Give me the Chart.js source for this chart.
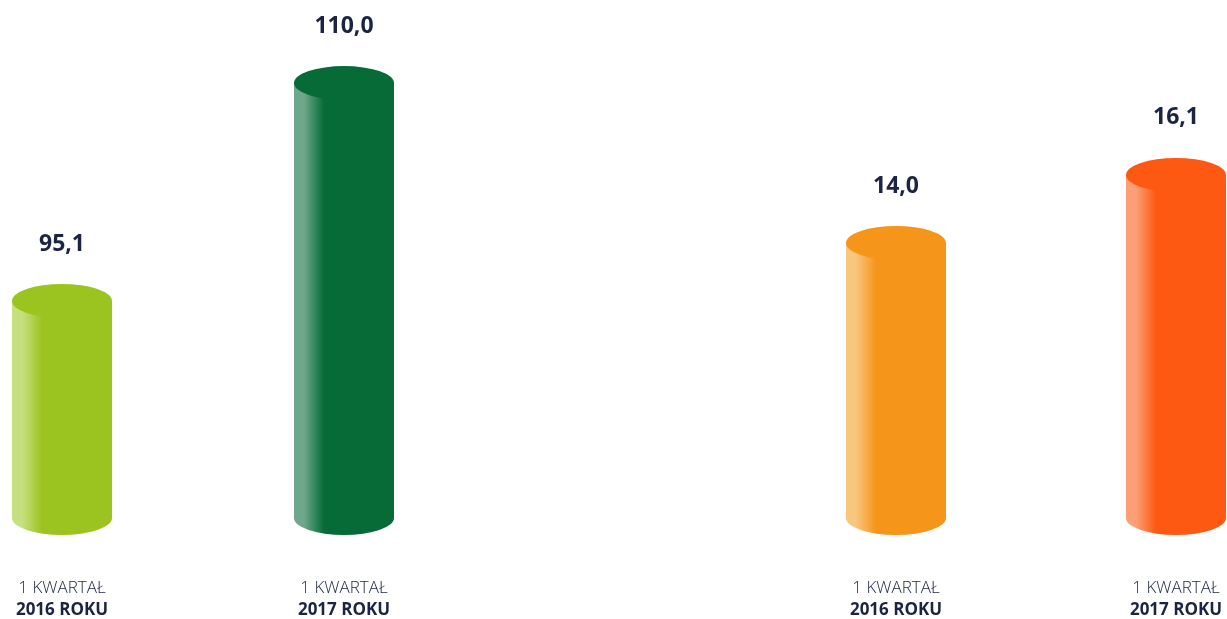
<!DOCTYPE html>
<html>
<head>
<meta charset="utf-8">
<script src="https://cdn.jsdelivr.net/npm/chart.js@4/dist/chart.umd.min.js"></script>
<style>
  html, body { margin: 0; padding: 0; background: #fff; overflow: hidden; }
  body { width: 1227px; height: 619px; position: relative; }
  .box { position: absolute; top: 0; height: 619px; }
  #boxLeft { left: -79px; width: 564px; }
  #boxRight { left: 756px; width: 560px; }
</style>
</head>
<body>
<div class="box" id="boxLeft"><canvas id="chartLeft"></canvas></div>
<div class="box" id="boxRight"><canvas id="chartRight"></canvas></div>
<script>
// dane
const quarterLabels = ['1 KWARTAŁ', '1 KWARTAŁ'];
const yearLabels = ['2016 ROKU', '2017 ROKU'];
const leftValues = [95.1, 110.0];
const rightValues = [14.0, 16.1];

const TEXT_COLOR = '#1b2442';
const FONT = '"Open Sans", sans-serif';

// cylindry zamiast zwyklych slupkow
const cylinderPlugin = {
  id: 'cylinder',
  beforeDatasetDraw(chart, args) {
    const ctx = chart.ctx;
    const ds = chart.data.datasets[args.index];
    args.meta.data.forEach((bar, i) => {
      const p = bar.getProps(['x', 'y', 'base', 'width'], true);
      const rx = p.width / 2, ry = 17;
      const left = p.x - rx, right = p.x + rx;
      const g = ctx.createLinearGradient(left, 0, right, 0);
      g.addColorStop(0, ds.highlight[i]);
      g.addColorStop(0.1, ds.highlight[i]);
      g.addColorStop(0.3, ds.backgroundColor[i]);
      g.addColorStop(1, ds.backgroundColor[i]);
      ctx.save();
      ctx.beginPath();
      ctx.moveTo(left, p.y);
      ctx.lineTo(left, p.base);
      ctx.ellipse(p.x, p.base, rx, ry, 0, Math.PI, 0, true);
      ctx.lineTo(right, p.y);
      ctx.closePath();
      ctx.fillStyle = g;
      ctx.fill();
      ctx.beginPath();
      ctx.ellipse(p.x, p.y, rx, ry, 0, 0, Math.PI * 2);
      ctx.fillStyle = ds.backgroundColor[i];
      ctx.fill();
      ctx.restore();
    });
    return false;
  },
  afterDraw(chart) {
    const ctx = chart.ctx;
    const ds = chart.data.datasets[0];
    const meta = chart.getDatasetMeta(0);
    ctx.save();
    ctx.fillStyle = TEXT_COLOR;
    ctx.textAlign = 'center';
    ctx.textBaseline = 'middle';
    meta.data.forEach((bar, i) => {
      const x = chart.scales.x.getPixelForValue(i);
      ctx.font = 'bold 23px ' + FONT;
      ctx.fillText(ds.data[i].toFixed(1).replace('.', ','), x, bar.y - 57);
      ctx.font = '300 17px ' + FONT;
      ctx.fillText(quarterLabels[i], x, 588);
      ctx.font = 'bold 17px ' + FONT;
      ctx.fillText(yearLabels[i], x, 610);
    });
    ctx.restore();
  }
};

function makeChart(id, values, colors, highlights, yMin, yMax) {
  return new Chart(document.getElementById(id), {
    type: 'bar',
    data: {
      labels: yearLabels,
      datasets: [{
        data: values,
        base: yMin,
        backgroundColor: colors,
        highlight: highlights,
        barThickness: 100
      }]
    },
    options: {
      responsive: true,
      maintainAspectRatio: false,
      animation: false,
      layout: { padding: { top: 0, bottom: 101, left: 0, right: 0 } },
      plugins: { legend: { display: false }, tooltip: { enabled: false } },
      scales: {
        x: { display: false },
        y: { display: false, min: yMin, max: yMax }
      }
    },
    plugins: [cylinderPlugin]
  });
}

makeChart('chartLeft', leftValues, ['#9cc420', '#066b36'], ['#c6e07f', '#6ea78b'], 80.27, 115.68);
makeChart('chartRight', rightValues, ['#f5951a', '#fd5912'], ['#f9c67e', '#fd9f76'], 5.51, 21.5);
</script>
</body>
</html>
